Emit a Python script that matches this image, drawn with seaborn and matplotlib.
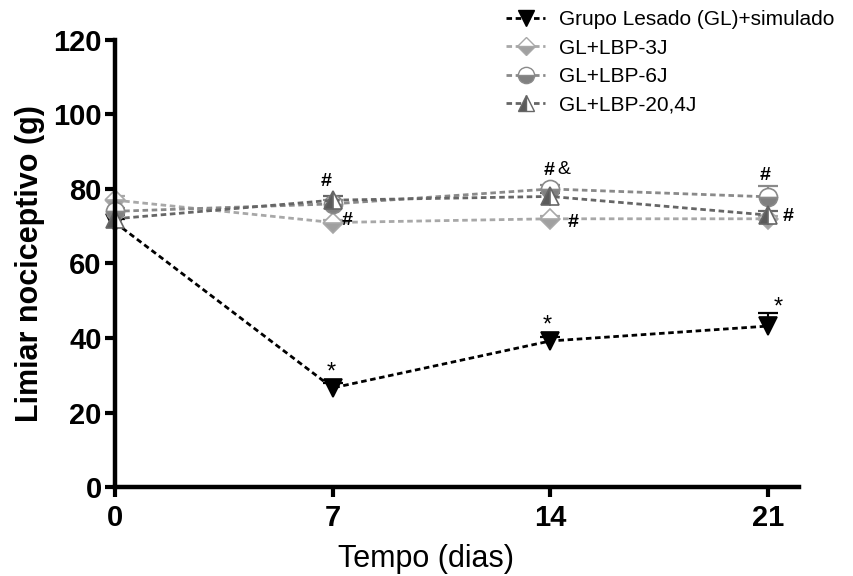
import numpy as np
import pandas as pd
import matplotlib
matplotlib.use("Agg")
import matplotlib.pyplot as plt
import seaborn as sns
from matplotlib.lines import Line2D

# Days of observation
dias = [0, 7, 14, 21]

# Nociceptive threshold means (g) and upper SEM for each group
grupos = ["Grupo Lesado (GL)+simulado", "GL+LBP-3J", "GL+LBP-6J", "GL+LBP-20,4J"]
gl_sim = [71.0, 26.6, 39.2, 43.2]
gl_sim_sem = [1.0, 1.2, 1.0, 3.5]
lbp_3j = [77.0, 71.0, 72.0, 72.0]
lbp_3j_sem = [1.0, 0.8, 0.8, 0.8]
lbp_6j = [74.0, 76.0, 80.0, 77.9]
lbp_6j_sem = [1.0, 1.0, 1.0, 2.9]
lbp_20j = [72.0, 77.0, 78.0, 73.0]
lbp_20j_sem = [1.0, 1.0, 1.0, 1.0]

xticks = [0, 7, 14, 21]
yticks = [0, 20, 40, 60, 80, 100, 120]

sns.set_style("ticks")
plt.rcParams["font.family"] = ["Liberation Sans", "DejaVu Sans"]
plt.rcParams["text.color"] = "black"
plt.rcParams["axes.labelcolor"] = "black"
plt.rcParams["xtick.color"] = "black"
plt.rcParams["ytick.color"] = "black"

fig = plt.figure(figsize=(8.54, 5.76), dpi=100)
ax = fig.add_axes([0.1347, 0.1545, 0.9356 - 0.1347, 0.9306 - 0.1545])

dash = (0, (2.0, 1.3))
series = [
    dict(y=gl_sim, e=gl_sim_sem, color="black", marker="v", ms=12.5, fill="full",
         mfc="black", mec="black"),
    dict(y=lbp_3j, e=lbp_3j_sem, color="#a8a8a8", marker="D", ms=10, fill="bottom",
         mfc="#a0a0a0", mec="#a8a8a8"),
    dict(y=lbp_6j, e=lbp_6j_sem, color="#8a8a8a", marker="o", ms=13, fill="bottom",
         mfc="#808080", mec="#8a8a8a"),
    dict(y=lbp_20j, e=lbp_20j_sem, color="#666666", marker="^", ms=13, fill="left",
         mfc="#5a5a5a", mec="#666666"),
]

handles = []
for name, s in zip(grupos, series):
    df = pd.DataFrame({"dia": dias, "limiar": s["y"]})
    eb = ax.errorbar(dias, s["y"], yerr=[np.zeros(len(dias)), s["e"]], fmt="none",
                     ecolor=s["color"], elinewidth=1.5, capsize=7, capthick=1.6,
                     zorder=2)
    # only the upper cap is shown
    eb[1][0].set_visible(False)
    sns.lineplot(data=df, x="dia", y="limiar", ax=ax, color=s["color"],
                 linestyle=dash, linewidth=2.0, marker=s["marker"],
                 markersize=s["ms"], fillstyle=s["fill"],
                 markerfacecolor=s["mfc"], markerfacecoloralt="white",
                 markeredgecolor=s["mec"], markeredgewidth=1.2,
                 errorbar=None, zorder=3, clip_on=False)
    handles.append(Line2D([], [], color=s["color"], linestyle=dash, linewidth=2.0,
                          marker=s["marker"], markersize=s["ms"] * 0.9,
                          fillstyle=s["fill"], markerfacecolor=s["mfc"],
                          markerfacecoloralt="white", markeredgecolor=s["mec"],
                          markeredgewidth=1.0, label=name))

# Significance marks
star_kw = dict(fontsize=17, ha="center", va="center", color="black")
hash_kw = dict(fontsize=14, ha="center", va="center", color="black", fontweight="bold")
for d, v, dx, dy in zip(dias[1:], gl_sim[1:], [-0.05, -0.1, 0.32], [4.0, 4.2, 5.0]):
    ax.text(d + dx, v + dy, "*", **star_kw)
ax.text(6.8, lbp_20j[1] + 5.1, "#", **hash_kw)
ax.text(7.45, lbp_3j[1] + 0.6, "#", **hash_kw)
ax.text(13.95, lbp_6j[2] + 5.0, "#", **hash_kw)
ax.text(14.45, lbp_6j[2] + 5.1, "&", fontsize=14, ha="center", va="center")
ax.text(14.75, lbp_3j[2] - 0.9, "#", **hash_kw)
ax.text(20.9, lbp_6j[3] + 5.6, "#", **hash_kw)
ax.text(21.65, lbp_3j[3] + 0.5, "#", **hash_kw)

ax.set_xlim(0, 22)
ax.set_ylim(0, 120)
ax.set_xticks(xticks)
ax.set_yticks(yticks)
ax.set_xticklabels([str(t) for t in xticks], fontsize=21, fontweight="bold")
ax.set_yticklabels([str(t) for t in yticks], fontsize=21, fontweight="bold")
ax.tick_params(axis="both", direction="out", length=7.5, width=3, color="black")
ax.tick_params(axis="x", pad=5)
ax.tick_params(axis="y", pad=2)
for side in ["top", "right"]:
    ax.spines[side].set_visible(False)
for side in ["left", "bottom"]:
    ax.spines[side].set_linewidth(3.2)
    ax.spines[side].set_color("black")
    ax.spines[side].set_zorder(5)

ax.set_xlabel("Tempo (dias)", fontsize=22)
ax.xaxis.set_label_coords((426 - 115) / (799 - 115), -0.128)
ax.set_ylabel("Limiar nociceptivo (g)", fontsize=22, fontweight="bold", labelpad=6)

fig.legend(handles=handles, loc="upper left", bbox_to_anchor=(0.58, 1.0),
           frameon=False, fontsize=15, handlelength=1.9, handletextpad=0.65,
           labelspacing=0.45, borderpad=0)

fig.savefig("out.png", dpi=100)
